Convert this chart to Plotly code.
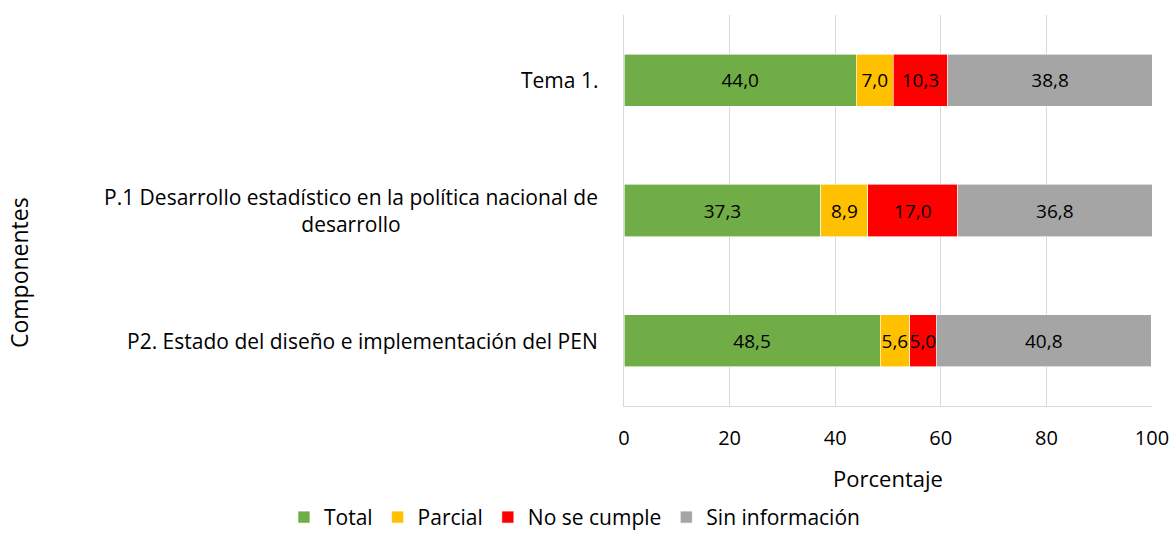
import plotly.graph_objects as go

# categories, top to bottom
componentes = [
    "Tema 1.",
    "P.1 Desarrollo estadístico en la política nacional de<br>desarrollo",
    "P2. Estado del diseño e implementación del PEN",
]
series = ["Total", "Parcial", "No se cumple", "Sin información"]
total = [44.0, 37.3, 48.5]
parcial = [7.0, 8.9, 5.6]
no_cumple = [10.3, 17.0, 5.0]
sin_info = [38.8, 36.8, 40.8]
colores = ["#70AD47", "#FFC000", "#FF0000", "#A5A5A5"]

FONT = "Open Sans"

fig = go.Figure()
for name, vals, col in zip(series, [total, parcial, no_cumple, sin_info], colores):
    fig.add_trace(go.Bar(
        y=componentes, x=vals, name=name, orientation="h",
        marker=dict(color=col, line=dict(width=0.6, color="#ffffff")),
        text=vals, texttemplate="%{x:.1f}", textposition="inside",
        insidetextanchor="middle", constraintext="none", textangle=0,
        textfont=dict(family=FONT, size=19, color="#000000"),
    ))

# category labels, centred lines like the original
for c in componentes:
    fig.add_annotation(
        x=0, xref="paper", y=c, yref="y", xanchor="right", xshift=-24,
        text=c, showarrow=False, align="center",
        font=dict(family=FONT, size=21, color="#000000"),
    )

fig.add_annotation(
    x=0, xref="paper", y=0.34, yref="paper", xshift=-605, xanchor="center",
    yanchor="middle", text="Componentes", textangle=-90, showarrow=False,
    font=dict(family=FONT, size=23, color="#000000"),
)

fig.update_layout(
    width=1172, height=537,
    barmode="stack", bargap=0.6,
    separators=",.",
    paper_bgcolor="#ffffff", plot_bgcolor="#ffffff",
    margin=dict(l=624, r=20, t=15, b=131, autoexpand=False),
    uniformtext=dict(minsize=19, mode="show"),
    font=dict(family=FONT, size=20, color="#000000"),
    xaxis=dict(
        range=[0, 100], dtick=20, showgrid=True, gridcolor="#D9D9D9",
        showline=True, linecolor="#D9D9D9", zeroline=False, ticks="",
        tickfont=dict(size=20), ticklabelstandoff=14, automargin=False,
        title=dict(text="Porcentaje", font=dict(size=22), standoff=21),
    ),
    yaxis=dict(
        categoryorder="array", categoryarray=componentes[::-1],
        showticklabels=False, showline=True, linecolor="#D9D9D9",
        showgrid=False, ticks="", automargin=False,
    ),
    legend=dict(
        orientation="h", x=-0.644, y=-0.285, xanchor="left", yanchor="middle",
        traceorder="normal", font=dict(size=21), itemwidth=30,
    ),
)

# drop the default page margin so the figure fills the window exactly
fig.write_html(
    "out.html",
    config={"displayModeBar": False},
    post_script="document.body.style.margin='0';document.body.style.overflow='hidden';",
)
